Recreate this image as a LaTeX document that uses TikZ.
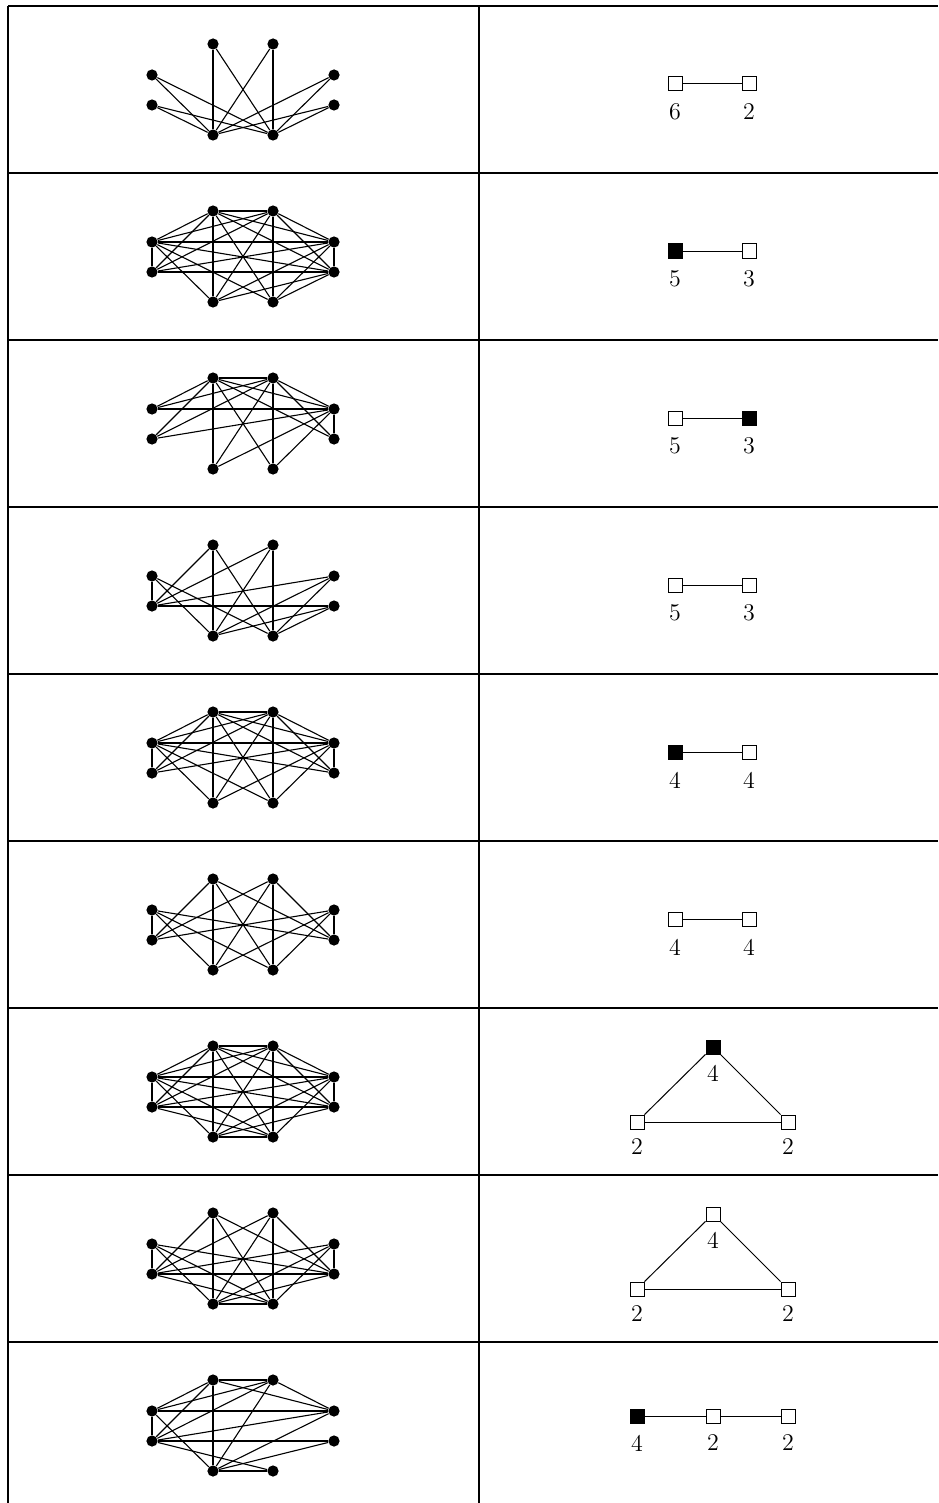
\documentclass[tikz,border=0pt]{standalone}
\newcommand{\gverts}[2]{%
 \node[dot] (#1A) at (152,{#2+69}) {};
 \node[dot] (#1B) at (152,{#2+99}) {};
 \node[dot] (#1C) at (213,{#2+38}) {};
 \node[dot] (#1D) at (273,{#2+38}) {};
 \node[dot] (#1E) at (334,{#2+69}) {};
 \node[dot] (#1F) at (334,{#2+99}) {};
 \node[dot] (#1G) at (213,{#2+129}) {};
 \node[dot] (#1H) at (273,{#2+129}) {};}
\newcommand{\gedges}[2]{\foreach \u/\v in {#2} {\draw[edge] (#1\u) -- (#1\v);}}
\newcommand{\pairrow}[6]{%
 \node[#3] (#1p) at (675,{#2+78}) {};
 \node[#5] (#1q) at (749,{#2+78}) {};
 \draw[qedge] (#1p) -- (#1q);
 \node[num] (#1pl) at (675,{#2+106}) {#4};
 \node[num] (#1ql) at (749,{#2+106}) {#6};}
\begin{document}
\begin{tikzpicture}[x=0.5pt,y=-0.5pt,
 dot/.style={circle,fill=black,inner sep=0pt,minimum size=5.6pt},
 edge/.style={line width=0.55pt},
 wsq/.style={draw=black,fill=white,line width=0.5pt,inner sep=0pt,minimum size=7pt},
 bsq/.style={draw=black,fill=black,line width=0.5pt,inner sep=0pt,minimum size=7pt},
 qedge/.style={line width=0.5pt},
 num/.style={inner sep=0pt,font=\large},
 rulel/.style={line width=1.2pt}]
\useasboundingbox (0,0) rectangle (938,1503);
% table
\foreach \k in {0,...,8} {\draw[rulel] (8,{6+167*\k}) -- (938,{6+167*\k});}
\draw[rulel] (8,6) -- (8,1503);
\draw[rulel] (479,6) -- (479,1503);
% row 1: K_{6,2}
\gverts{a}{6}
\gedges{a}{A/G,A/H,B/G,B/H,C/G,C/H,D/G,D/H,E/G,E/H,F/G,F/H}
\pairrow{a}{6}{wsq}{6}{wsq}{2}
% row 2
\gverts{b}{173}
\gedges{b}{A/C,A/D,A/E,A/F,C/D,C/E,C/F,D/E,D/F,E/F,B/A,B/C,B/D,B/E,B/F,G/A,G/C,G/D,G/E,G/F,H/A,H/C,H/D,H/E,H/F}
\pairrow{b}{173}{bsq}{5}{wsq}{3}
% row 3
\gverts{c}{340}
\gedges{c}{C/D,C/E,D/E,A/C,A/D,A/E,B/C,B/D,B/E,F/C,F/D,F/E,G/C,G/D,G/E,H/C,H/D,H/E}
\pairrow{c}{340}{wsq}{5}{bsq}{3}
% row 4
\gverts{d}{507}
\gedges{d}{A/B,A/G,A/H,C/B,C/G,C/H,D/B,D/G,D/H,E/B,E/G,E/H,F/B,F/G,F/H}
\pairrow{d}{507}{wsq}{5}{wsq}{3}
% row 5
\gverts{e}{674}
\gedges{e}{A/C,A/D,A/E,C/D,C/E,D/E,A/B,A/F,A/G,A/H,C/B,C/F,C/G,C/H,D/B,D/F,D/G,D/H,E/B,E/F,E/G,E/H}
\pairrow{e}{674}{bsq}{4}{wsq}{4}
% row 6
\gverts{f}{841}
\gedges{f}{A/B,A/F,A/G,A/H,C/B,C/F,C/G,C/H,D/B,D/F,D/G,D/H,E/B,E/F,E/G,E/H}
\pairrow{f}{841}{wsq}{4}{wsq}{4}
% row 7
\gverts{g}{1008}
\gedges{g}{A/B,A/C,A/D,A/E,A/F,A/G,A/H,B/C,B/D,B/E,B/F,B/H,C/D,C/E,C/F,C/G,C/H,D/E,D/F,D/G,D/H,E/F,E/G,E/H,F/G,G/H}
\node[bsq] (gt) at (713,1047) {};
\node[wsq] (gl) at (637,1122) {};
\node[wsq] (gr) at (788,1122) {};
\draw[qedge] (gt) -- (gl);
\draw[qedge] (gt) -- (gr);
\draw[qedge] (gl) -- (gr);
\node[num] (gtl) at (713,1073) {4};
\node[num] (gll) at (637,1147) {2};
\node[num] (grl) at (788,1147) {2};
% row 8
\gverts{h}{1175}
\gedges{h}{A/B,A/F,A/G,A/H,C/B,C/F,C/G,C/H,D/B,D/F,D/G,D/H,E/B,E/F,E/G,E/H,B/F,B/H,G/F,G/H}
\node[wsq] (ht) at (713,1214) {};
\node[wsq] (hl) at (637,1289) {};
\node[wsq] (hr) at (788,1289) {};
\draw[qedge] (ht) -- (hl);
\draw[qedge] (ht) -- (hr);
\draw[qedge] (hl) -- (hr);
\node[num] (htl) at (713,1240) {4};
\node[num] (hll) at (637,1314) {2};
\node[num] (hrl) at (788,1314) {2};
% row 9
\gverts{i}{1342}
\gedges{i}{A/C,A/D,A/E,C/D,C/E,D/E,A/B,A/G,C/B,C/G,D/B,D/G,E/B,E/G,B/F,B/H,G/F,G/H}
\node[bsq] (i1) at (637,1416) {};
\node[wsq] (i2) at (713,1416) {};
\node[wsq] (i3) at (788,1416) {};
\draw[qedge] (i1) -- (i2);
\draw[qedge] (i2) -- (i3);
\node[num] (i1l) at (637,1443) {4};
\node[num] (i2l) at (713,1443) {2};
\node[num] (i3l) at (788,1443) {2};
\end{tikzpicture}
\end{document}
